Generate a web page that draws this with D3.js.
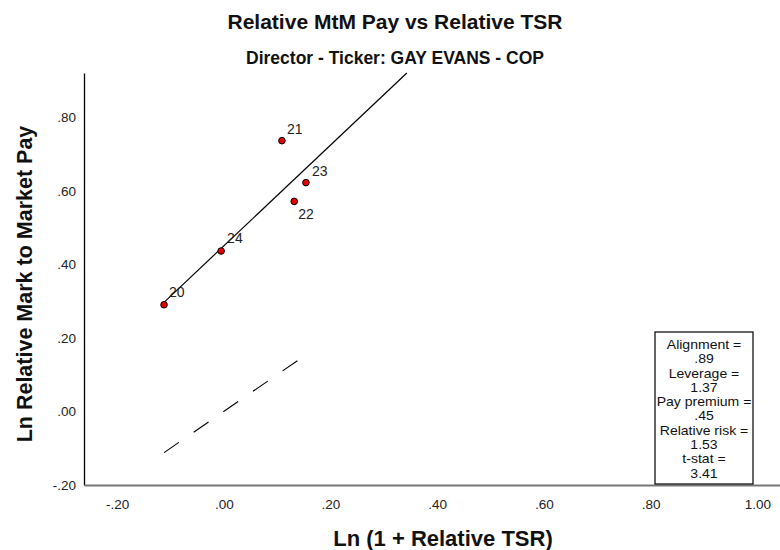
<!DOCTYPE html>
<html><head><meta charset="utf-8">
<script src="https://cdn.jsdelivr.net/npm/d3@7"></script>
<style>body{margin:0;background:#fff}text{font-family:"Liberation Sans",Arial,sans-serif}</style>
</head><body>
<svg id="c" width="780" height="550"></svg>
<script>
const years = ["20","21","22","23","24"];
const tsrValues = [-0.112, 0.109, 0.132, 0.154, -0.005];
const payValues = [0.290, 0.736, 0.571, 0.622, 0.436];
const xTicks = [-0.2, 0, 0.2, 0.4, 0.6, 0.8, 1.0];
const yTicks = [-0.2, 0, 0.2, 0.4, 0.6, 0.8];
const statLines = ["Alignment =", ".89", "Leverage =", "1.37", "Pay premium =", ".45", "Relative risk =", "1.53", "t-stat =", "3.41"];
const fitIntercept = 0.45, fitSlope = 1.37;
const labelOffsets = [[5,-8],[5,-7],[4,18],[6,-7],[6,-8]];

(function(){
const svg = d3.select("#c");
const pL = 84, pR = 784, pT = 73, pB = 485;
const x = d3.scaleLinear().domain([-0.262, 1.05]).range([pL, pR]);
const y = d3.scaleLinear().domain([-0.2, 0.92]).range([pB, pT]);
const fmt = v => { let s = d3.format(".2f")(v).replace("\u2212", "-"); return s.replace(/^(-?)0\./, "$1."); };

svg.append("text").attr("x", 395).attr("y", 29).attr("text-anchor","middle")
  .attr("font-size", 21).attr("font-weight","bold").attr("fill","#111").text("Relative MtM Pay vs Relative TSR");
svg.append("text").attr("x", 395).attr("y", 64).attr("text-anchor","middle")
  .attr("font-size", 17.5).attr("font-weight","bold").attr("fill","#111").text("Director - Ticker: GAY EVANS - COP");

const ya = svg.append("g").attr("transform", `translate(${pL},0)`)
  .call(d3.axisLeft(y).tickValues(yTicks).tickFormat(fmt).tickSize(0).tickSizeOuter(0).tickPadding(8));
ya.select(".domain").attr("stroke","#000").attr("stroke-width",1.3);
ya.selectAll("text").attr("font-size", 13.5).attr("fill","#222").attr("font-family","Liberation Sans, Arial, sans-serif");

const xa = svg.append("g").attr("transform", `translate(0,${pB})`)
  .call(d3.axisBottom(x).tickValues(xTicks).tickFormat(fmt).tickSize(0).tickSizeOuter(0).tickPadding(14));
xa.select(".domain").attr("stroke","#777").attr("stroke-width",2);
xa.selectAll("text").attr("font-size", 13.5).attr("fill","#222").attr("font-family","Liberation Sans, Arial, sans-serif");

svg.append("text").attr("x", 443).attr("y", 546).attr("text-anchor","middle")
  .attr("font-size", 22).attr("font-weight","bold").attr("fill","#111").text("Ln (1 + Relative TSR)");
svg.append("text").attr("transform","translate(32,284) rotate(-90)").attr("text-anchor","middle")
  .attr("font-size", 21.5).attr("font-weight","bold").attr("fill","#111").text("Ln Relative Mark to Market Pay");

const xmin = d3.min(tsrValues), xmax = d3.max(tsrValues);
const xEnd = (y.domain()[1] - fitIntercept) / fitSlope;
svg.append("line").attr("x1", x(xmin)).attr("y1", y(fitIntercept + fitSlope*xmin))
  .attr("x2", x(xEnd)).attr("y2", y(fitIntercept + fitSlope*xEnd))
  .attr("stroke","#000").attr("stroke-width",1.2);
svg.append("line").attr("x1", x(xmin)).attr("y1", y(xmin))
  .attr("x2", x(xmax)).attr("y2", y(xmax))
  .attr("stroke","#000").attr("stroke-width",1.1).attr("stroke-dasharray","18,18");

const pts = years.map((d,i)=>({lab:d, x:tsrValues[i], y:payValues[i], o:labelOffsets[i]}));
svg.selectAll("circle.p").data(pts).enter().append("circle")
  .attr("cx", d=>x(d.x)).attr("cy", d=>y(d.y)).attr("r", 3.3)
  .attr("fill","#e80000").attr("stroke","#000").attr("stroke-width",1);
svg.selectAll("text.l").data(pts).enter().append("text")
  .attr("x", d=>x(d.x)+d.o[0]).attr("y", d=>y(d.y)+d.o[1])
  .attr("font-size", 14).attr("fill","#222").text(d=>d.lab);

svg.append("rect").attr("x", 655).attr("y", 332).attr("width", 98).attr("height", 152)
  .attr("fill","#fff").attr("stroke","#000").attr("stroke-width",1.2);
const sg = svg.append("g").attr("transform","translate(704,0) scale(1.17,1)");
sg.selectAll("text.s").data(statLines).enter().append("text")
  .attr("x", 0).attr("y", (d,i)=>349 + i*14.3).attr("text-anchor","middle")
  .attr("font-size", 12).attr("fill","#111").text(d=>d);
})();
</script>
</body></html>
